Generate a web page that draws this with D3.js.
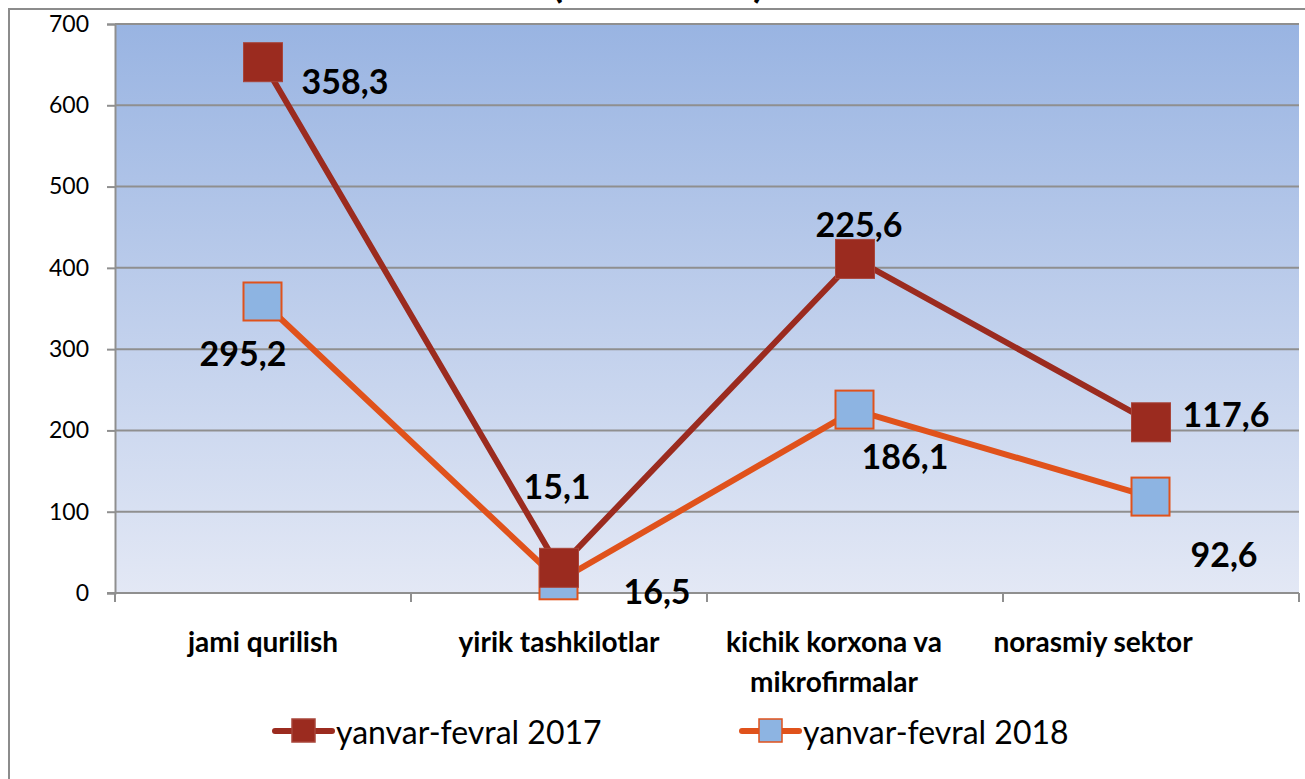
<!DOCTYPE html>
<html><head><meta charset="utf-8">
<script src="https://cdn.jsdelivr.net/npm/d3@7/dist/d3.min.js"></script>
<style>
html,body{margin:0;padding:0;background:#fff;overflow:hidden;}
text{font-family:Lato,"Open Sans",sans-serif;}
</style></head>
<body>
<svg id="chart" width="1305" height="779"></svg>
<script>
const categories = [["jami qurilish"], ["yirik tashkilotlar"], ["kichik korxona va", "mikrofirmalar"], ["norasmiy sektor"]];
const seriesNames = ["yanvar-fevral 2017", "yanvar-fevral 2018"];
const values2017 = [653, 31, 411, 210];
const values2018 = [358, 15, 225, 118];
const labels2017 = ["358,3", "15,1", "225,6", "117,6"];
const labels2018 = ["295,2", "16,5", "186,1", "92,6"];
const yTicks = [0, 100, 200, 300, 400, 500, 600, 700];
const titleText = "(mlrd. so‘m)";

const svg = d3.select("#chart");
const plot = {left: 115, right: 1299, top: 24, bottom: 593};

// title (mostly cut off above view, as in the reference)
svg.append("text").attr("x", 658).attr("y", -3).attr("text-anchor", "middle")
  .attr("font-size", 42).attr("font-weight", "bold").attr("fill", "#000").text(titleText);

// outer frame
svg.append("rect").attr("x", 9).attr("y", 9).attr("width", 1303).attr("height", 800)
  .attr("fill", "none").attr("stroke", "#8c8c8c").attr("stroke-width", 2);

const defs = svg.append("defs");
const grad = defs.append("linearGradient").attr("id", "bg").attr("x1", 0).attr("y1", 0).attr("x2", 0).attr("y2", 1);
grad.append("stop").attr("offset", "0%").attr("stop-color", "#99b4e2");
grad.append("stop").attr("offset", "100%").attr("stop-color", "#e3e8f5");

const x = d3.scaleBand().domain(d3.range(categories.length)).range([plot.left, plot.right]);
const y = d3.scaleLinear().domain([0, 700]).range([plot.bottom, plot.top]);

svg.append("rect").attr("x", plot.left).attr("y", plot.top)
  .attr("width", plot.right - plot.left).attr("height", plot.bottom - plot.top)
  .attr("fill", "url(#bg)");

// gridlines
svg.append("g").selectAll("line").data(yTicks).join("line")
  .attr("x1", plot.left).attr("x2", plot.right)
  .attr("y1", d => y(d)).attr("y2", d => y(d))
  .attr("stroke", "#8f8f8f").attr("stroke-width", 2);

// y axis
const yAxis = svg.append("g").attr("transform", `translate(${plot.left},0)`)
  .call(d3.axisLeft(y).tickValues(yTicks).tickSize(8).tickPadding(18).tickFormat(d3.format("d")));
yAxis.select(".domain").attr("stroke", "#8f8f8f").attr("stroke-width", 2);
yAxis.selectAll(".tick line").attr("stroke", "#8f8f8f").attr("stroke-width", 2);
yAxis.selectAll(".tick text").attr("font-size", 23).attr("fill", "#000")
  .attr("font-family", "Lato, sans-serif");

// x axis ticks at category boundaries
const bounds = d3.range(categories.length + 1).map(i => plot.left + i * x.bandwidth());
svg.append("g").selectAll("line").data(bounds).join("line")
  .attr("x1", d => d).attr("x2", d => d).attr("y1", plot.bottom).attr("y2", plot.bottom + 9)
  .attr("stroke", "#8f8f8f").attr("stroke-width", 2);
svg.append("line").attr("x1", plot.left - 8).attr("x2", plot.right).attr("y1", plot.bottom).attr("y2", plot.bottom)
  .attr("stroke", "#8f8f8f").attr("stroke-width", 2);

// category labels
const catDx = [0, 0, -21, -58];
categories.forEach((lines, i) => {
  const t = svg.append("text").attr("text-anchor", "middle").attr("font-size", 28)
    .attr("font-weight", "bold").attr("fill", "#000");
  lines.forEach((l, j) => {
    t.append("tspan").attr("x", x(i) + x.bandwidth() / 2 + catDx[i]).attr("y", 652 + j * 40).text(l);
  });
});

const cx = i => x(i) + x.bandwidth() / 2;
const line = d3.line().x((d, i) => cx(i)).y(d => y(d));
const ms = 39;

// series 2018 (drawn under)
svg.append("path").datum(values2018).attr("d", line).attr("fill", "none")
  .attr("stroke", "#e0521b").attr("stroke-width", 6).attr("stroke-linejoin", "round");
svg.append("g").selectAll("rect").data(values2018).join("rect")
  .attr("x", (d, i) => cx(i) - ms / 2).attr("y", d => y(d) - ms / 2)
  .attr("width", ms - 1).attr("height", ms - 1)
  .attr("fill", "#8db4e2").attr("stroke", "#e0521b").attr("stroke-width", 2);

// series 2017
svg.append("path").datum(values2017).attr("d", line).attr("fill", "none")
  .attr("stroke", "#9b2b1f").attr("stroke-width", 6).attr("stroke-linejoin", "round");
svg.append("g").selectAll("rect").data(values2017).join("rect")
  .attr("x", (d, i) => cx(i) - ms / 2).attr("y", d => y(d) - ms / 2)
  .attr("width", ms).attr("height", ms)
  .attr("fill", "#9b2b1f").attr("stroke", "#a8453a").attr("stroke-width", 1);

// data labels
const off2017 = [[82, 18], [-2, -82], [4, -35], [75, -9]];
const off2018 = [[-20, 51], [98, 10], [50, 45], [73, 56]];
function labels(vals, labs, offs) {
  svg.append("g").selectAll("text").data(vals).join("text")
    .attr("x", (d, i) => cx(i) + offs[i][0])
    .attr("y", (d, i) => y(d) + offs[i][1])
    .attr("text-anchor", "middle").attr("dominant-baseline", "central")
    .attr("font-size", 34).attr("font-weight", "bold").attr("fill", "#000")
    .text((d, i) => labs[i]);
}
labels(values2017, labels2017, off2017);
labels(values2018, labels2018, off2018);

// legend
const legend = [
  {name: seriesNames[0], x0: 275, stroke: "#9b2b1f", fill: "#9b2b1f", mstroke: "#a8453a"},
  {name: seriesNames[1], x0: 742, stroke: "#e0521b", fill: "#8db4e2", mstroke: "#e0521b"}
];
legend.forEach(l => {
  const ly = 731;
  svg.append("line").attr("x1", l.x0).attr("x2", l.x0 + 57).attr("y1", ly).attr("y2", ly)
    .attr("stroke", l.stroke).attr("stroke-width", 6).attr("stroke-linecap", "round");
  svg.append("rect").attr("x", l.x0 + 17).attr("y", ly - 12).attr("width", 23).attr("height", 23)
    .attr("fill", l.fill).attr("stroke", l.mstroke).attr("stroke-width", 1.5);
  svg.append("text").attr("x", l.x0 + 61).attr("y", ly).attr("dominant-baseline", "central")
    .attr("font-size", 32).attr("fill", "#000").text(l.name);
});
</script>
</body></html>
